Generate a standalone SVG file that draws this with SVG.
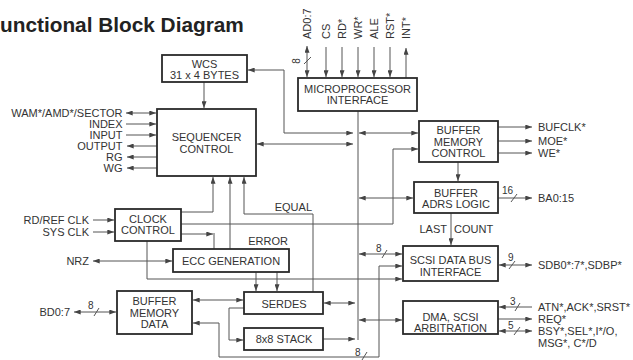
<svg xmlns="http://www.w3.org/2000/svg" width="633" height="360" viewBox="0 0 633 360">
<defs>
<marker id="ah" viewBox="0 0 8 6" refX="8" refY="3" markerWidth="7" markerHeight="5" markerUnits="userSpaceOnUse" orient="auto-start-reverse">
<path d="M0,0 L8,3 L0,6 z" fill="#444"/>
</marker>
<style>
text{font-family:"Liberation Sans",Arial,sans-serif;font-size:11px;fill:#333}
.t{font-size:20.8px;font-weight:bold;fill:#222}
.c{text-anchor:middle}
.e{text-anchor:end}
.n{font-size:10px}
.box{fill:#fff;stroke:#2a2a2a;stroke-width:1.8}
.w{fill:none;stroke:#555;stroke-width:1}
.a{marker-end:url(#ah)}
.d{marker-start:url(#ah);marker-end:url(#ah)}
</style>
</defs>
<rect width="633" height="360" fill="#fff"/>
<text class="t" x="0" y="32">unctional Block Diagram</text>

<g id="connectors">
<path class="w" d="M358,111 V340"/>
<path class="w d" d="M353,133 H284 V70 H248"/>
<path class="w d" d="M257,144 H353"/>
<path class="w d" d="M359,133 H418"/>
<path class="w a" d="M181,224 H393 V149 H418"/>
<path class="w d" d="M359,198 H413"/>
<path class="w a" d="M458,162 V181"/>
<path class="w a" d="M451,213 V245"/>
<path class="w d" d="M359,254 H402"/>
<path class="w d" d="M402,266 H379 V357 H219 V323 H193"/>
<path class="w a" d="M147,241 V279 H402"/>
<path class="w d" d="M359,320 H402"/>
<path class="w d" d="M324,303 H355"/>
<path class="w a" d="M323,339 H355"/>
<path class="w a" d="M244,308 H229 V340 H243"/>
<path class="w d" d="M193,300 H243"/>
<path class="w a" d="M256,272 V291"/>
<path class="w a" d="M277,272 V291"/>
<path class="w a" d="M230,249 V177"/>
<path class="w a" d="M313,292 V214 H244 V177"/>
<path class="w a" d="M181,212 H213 V177"/>
<path class="w a" d="M181,234 H213"/>
<path class="w" d="M214,233 V249"/>
<path class="w d" d="M93,261 H172"/>
<path class="w a" d="M93,220 H114"/>
<path class="w a" d="M93,232 H114"/>
<path class="w d" d="M74,312 H116"/>
<path class="w d" d="M126,113 H156"/>
<path class="w a" d="M126,124 H156"/>
<path class="w a" d="M126,135 H156"/>
<path class="w a" d="M157,146 H127"/>
<path class="w a" d="M157,157 H127"/>
<path class="w a" d="M157,168 H127"/>
<path class="w a" d="M204,82 V108"/>
<path class="w d" d="M307,46 V77"/>
<path class="w a" d="M326,47 V77"/>
<path class="w a" d="M342,47 V77"/>
<path class="w a" d="M358,47 V77"/>
<path class="w a" d="M374,47 V77"/>
<path class="w a" d="M390,47 V77"/>
<path class="w a" d="M406,78 V48"/>
<path class="w a" d="M498,127 H532"/>
<path class="w a" d="M498,141 H532"/>
<path class="w a" d="M498,153 H532"/>
<path class="w a" d="M498,198 H532"/>
<path class="w d" d="M499,265 H532"/>
<path class="w a" d="M532,307 H499"/>
<path class="w a" d="M498,319 H532"/>
<path class="w d" d="M499,331 H532"/>
<path class="w" d="M304,64 L311,57"/>
<path class="w" d="M94,316 L99,308"/>
<path class="w" d="M382,258 L387,250"/>
<path class="w" d="M362,360 L367,352"/>
<path class="w" d="M511,202 L517,194"/>
<path class="w" d="M509,269 L515,261"/>
<path class="w" d="M515,311 L520,303"/>
<path class="w" d="M514,335 L520,327"/>
<text class="n c" transform="translate(300,61) rotate(-90)">8</text>
<text class="n" x="88" y="309">8</text>
<text class="n" x="376" y="252">8</text>
<text class="n" x="355" y="356">8</text>
<text class="n" x="502" y="194">16</text>
<text class="n" x="508" y="261">9</text>
<text class="n" x="510" y="305">3</text>
<text class="n" x="508" y="329">5</text>
<text class="e" x="312" y="211">EQUAL</text>
<text class="e" x="288" y="245">ERROR</text>
<text class="e" x="447" y="233">LAST</text>
<text x="454" y="233">COUNT</text>
</g>

<g id="wcs"><rect class="box" x="162" y="55" width="85" height="27"/><text class="c" x="204.5" y="67.5">WCS</text><text class="c" x="204.5" y="78.5">31 x 4 BYTES</text></g>
<g id="micro"><rect class="box" x="298" y="78" width="119" height="33"/><text class="c" x="357.5" y="93">MICROPROCESSOR</text><text class="c" x="357.5" y="104">INTERFACE</text></g>
<g id="sequencer"><rect class="box" x="157" y="109" width="99" height="67"/><text class="c" x="206.5" y="141">SEQUENCER</text><text class="c" x="206.5" y="153">CONTROL</text></g>
<g id="bmc"><rect class="box" x="419" y="121" width="79" height="41"/><text class="c" x="458.5" y="134">BUFFER</text><text class="c" x="458.5" y="145.5">MEMORY</text><text class="c" x="458.5" y="157">CONTROL</text></g>
<g id="adrs"><rect class="box" x="414" y="182" width="84" height="31"/><text class="c" x="456" y="196.5">BUFFER</text><text class="c" x="456" y="208">ADRS LOGIC</text></g>
<g id="clock"><rect class="box" x="115" y="209" width="66" height="32"/><text class="c" x="148" y="223">CLOCK</text><text class="c" x="148" y="234">CONTROL</text></g>
<g id="ecc"><rect class="box" x="173" y="249" width="116" height="23"/><text class="c" x="231" y="265">ECC GENERATION</text></g>
<g id="bmd"><rect class="box" x="117" y="291" width="75" height="43"/><text class="c" x="154.5" y="305">BUFFER</text><text class="c" x="154.5" y="316.5">MEMORY</text><text class="c" x="154.5" y="327.5">DATA</text></g>
<g id="serdes"><rect class="box" x="244" y="292" width="79" height="22"/><text class="c" x="284" y="308">SERDES</text></g>
<g id="stack"><rect class="box" x="244" y="328" width="79" height="22"/><text class="c" x="284" y="343">8x8 STACK</text></g>
<g id="scsi"><rect class="box" x="403" y="246" width="95" height="35"/><text class="c" x="450.5" y="264">SCSI DATA BUS</text><text class="c" x="450.5" y="275.5">INTERFACE</text></g>
<g id="dma"><rect class="box" x="403" y="301" width="95" height="33"/><text class="c" x="450.5" y="320.5">DMA, SCSI</text><text class="c" x="450.5" y="331.5">ARBITRATION</text></g>

<g id="pins">
<text class="e" x="122.5" y="117">WAM*/AMD*/SECTOR</text>
<text class="e" x="122.5" y="128">INDEX</text>
<text class="e" x="122.5" y="139">INPUT</text>
<text class="e" x="122.5" y="150">OUTPUT</text>
<text class="e" x="122.5" y="161">RG</text>
<text class="e" x="122.5" y="172">WG</text>
<text class="e" x="89" y="224">RD/REF CLK</text>
<text class="e" x="89" y="236">SYS CLK</text>
<text class="e" x="89" y="265">NRZ</text>
<text class="e" x="70" y="316">BD0:7</text>
<text transform="translate(311,39) rotate(-90)">AD0:7</text>
<text transform="translate(330,39) rotate(-90)">CS</text>
<text transform="translate(346,39) rotate(-90)">RD*</text>
<text transform="translate(362,39) rotate(-90)">WR*</text>
<text transform="translate(378,39) rotate(-90)">ALE</text>
<text transform="translate(394,39) rotate(-90)">RST*</text>
<text transform="translate(410,39) rotate(-90)">INT*</text>
<text x="538" y="131">BUFCLK*</text>
<text x="538" y="145">MOE*</text>
<text x="538" y="157">WE*</text>
<text x="538" y="202">BA0:15</text>
<text x="538" y="269">SDB0*:7*,SDBP*</text>
<text x="538" y="311">ATN*,ACK*,SRST*</text>
<text x="538" y="323">REQ*</text>
<text x="538" y="335">BSY*,SEL*,I*/O,</text>
<text x="538" y="347">MSG*, C*/D</text>
</g>
</svg>
